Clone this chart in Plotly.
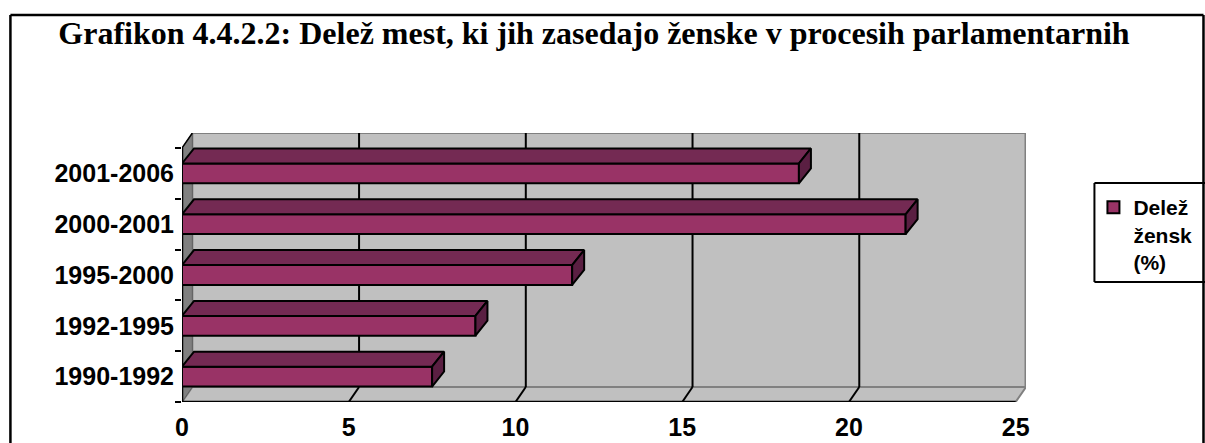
import plotly.graph_objects as go

# ---- data ----
categories = ["1990-1992", "1992-1995", "1995-2000", "2000-2001", "2001-2006"]
values = [7.5, 8.8, 11.7, 21.7, 18.5]
series_name = "Delež<br>žensk<br>(%)"
x_ticks = [0, 5, 10, 15, 20, 25]
title_text = "Grafikon 4.4.2.2: Delež mest, ki jih zasedajo ženske v procesih parlamentarnih"

# ---- styling / geometry (screen pixels, page margin removed) ----
W, H = 1205, 443
L = 182
T = 133
B = H - 402
R = W - 1025.6
XMAX = 25
DXW, DYW = 0.31, 0.295      # wall depth offset (data units)
DXB, DYB = 0.36, 0.295      # bar depth offset
BW = 0.39                   # bar front face thickness
FRONT = "#993366"
TOP = "#742a53"
SIDE = "#5a1f42"
WALL = "#C0C0C0"
SIDEWALL = "#808080"
TICKFONT = dict(family="Liberation Sans", size=25, color="black", weight="bold")

n = len(categories)
ypos = list(range(n))
ylo, yhi = -0.5, n - 0.5

fig = go.Figure()

# front faces of the bars
fig.add_trace(go.Bar(
    x=values, y=ypos, orientation="h", width=BW, base=0,
    marker=dict(color=FRONT, line=dict(color="black", width=2)),
    name=series_name, showlegend=True, hoverinfo="skip",
))

# top faces and side faces
for yi, v in zip(ypos, values):
    h = BW / 2
    fig.add_trace(go.Scatter(
        x=[0, v, v + DXB, DXB, 0],
        y=[yi + h, yi + h, yi + h + DYB, yi + h + DYB, yi + h],
        fill="toself", fillcolor=TOP, mode="lines",
        line=dict(color="black", width=2), showlegend=False, hoverinfo="skip"))
    fig.add_trace(go.Scatter(
        x=[v, v + DXB, v + DXB, v, v],
        y=[yi - h, yi - h + DYB, yi + h + DYB, yi + h, yi - h],
        fill="toself", fillcolor=SIDE, mode="lines",
        line=dict(color="black", width=2), showlegend=False, hoverinfo="skip"))

shapes = []
# back wall
shapes.append(dict(type="rect", xref="x", yref="y", x0=DXW, x1=XMAX + DXW,
                   y0=ylo + DYW, y1=yhi + DYW, fillcolor=WALL,
                   line=dict(color="#808080", width=2), layer="below"))
shapes.append(dict(type="line", xref="x", yref="y", x0=XMAX + DXW, x1=XMAX + DXW,
                   y0=ylo + DYW, y1=yhi + DYW, line=dict(color="#808080", width=3), layer="below"))
# floor
shapes.append(dict(type="path", xref="x", yref="y",
                   path=f"M0,{ylo} L{XMAX},{ylo} L{XMAX + DXW},{ylo + DYW} L{DXW},{ylo + DYW} Z",
                   fillcolor=WALL, line=dict(color="#808080", width=2), layer="below"))
# left wall
shapes.append(dict(type="path", xref="x", yref="y",
                   path=f"M0,{ylo} L{DXW},{ylo + DYW} L{DXW},{yhi + DYW} L0,{yhi} Z",
                   fillcolor=SIDEWALL, line=dict(color="#606060", width=1), layer="below"))
# gridlines on back wall and floor
for k in x_ticks[1:-1]:
    shapes.append(dict(type="line", xref="x", yref="y", x0=k + DXW, x1=k + DXW,
                       y0=ylo + DYW, y1=yhi + DYW, line=dict(color="black", width=2), layer="below"))
    shapes.append(dict(type="line", xref="x", yref="y", x0=k, x1=k + DXW,
                       y0=ylo, y1=ylo + DYW, line=dict(color="black", width=2), layer="below"))
# front axes
shapes.append(dict(type="line", xref="x", yref="y", x0=0, x1=XMAX, y0=ylo, y1=ylo,
                   line=dict(color="black", width=2.5), layer="below"))
shapes.append(dict(type="line", xref="x", yref="y", x0=0, x1=0, y0=ylo, y1=yhi,
                   line=dict(color="black", width=2.5), layer="below"))
shapes.append(dict(type="line", xref="x", yref="y", x0=0, x1=DXW, y0=yhi, y1=yhi + DYW,
                   line=dict(color="black", width=1.5), layer="below"))

# pixel (screen) -> paper helpers
pw = W - L - R
ph = H - T - B
def px2paper_x(px):
    return (px - L) / pw
def py2paper_y(py):
    return (H - B - py) / ph

# outer chart border as separate edges
bx0, bx1, by0, by1 = px2paper_x(10.5), px2paper_x(1203), py2paper_y(443), py2paper_y(15)
for (xa, ya, xb, yb) in [(bx0, by1, bx1, by1), (bx0, by0, bx0, by1), (bx1, by0, bx1, by1)]:
    shapes.append(dict(type="line", xref="paper", yref="paper", x0=xa, y0=ya, x1=xb, y1=yb,
                       line=dict(color="black", width=2.5), layer="above"))
# legend frame
lx0, lx1, ly0, ly1 = px2paper_x(1094), px2paper_x(1210), py2paper_y(282), py2paper_y(183)
for (xa, ya, xb, yb) in [(lx0, ly1, lx1, ly1), (lx0, ly0, lx1, ly0), (lx0, ly0, lx0, ly1)]:
    shapes.append(dict(type="line", xref="paper", yref="paper", x0=xa, y0=ya, x1=xb, y1=yb,
                       line=dict(color="black", width=2), layer="above"))

fig.update_layout(
    width=W, height=H,
    margin=dict(l=L, r=R, t=T, b=B, autoexpand=False),
    paper_bgcolor="white", plot_bgcolor="white",
    shapes=shapes,
    title=dict(text=title_text, xref="container", yref="container",
               x=594 / W, xanchor="center", y=1 - 33 / H, yanchor="middle",
               font=dict(family="Liberation Serif", size=32, color="black", weight="bold")),
    legend=dict(x=px2paper_x(1101), xanchor="left", y=py2paper_y(187), yanchor="top",
                borderwidth=0, bgcolor="rgba(0,0,0,0)", valign="top",
                indentation=-8,
                font=dict(family="Liberation Sans", size=21, color="black", weight="bold")),
    xaxis=dict(range=[0, XMAX + DXW], tickvals=x_ticks, ticktext=[str(t) for t in x_ticks],
               showgrid=False, zeroline=False, showline=False, ticks="",
               ticklabelstandoff=8, tickfont=TICKFONT, fixedrange=True),
    yaxis=dict(range=[ylo, yhi + DYW], tickvals=ypos, ticktext=categories,
               showgrid=False, zeroline=False, showline=False, ticks="",
               minor=dict(tickvals=[i - 0.5 for i in range(n + 1)], ticks="outside",
                          ticklen=6, tickwidth=2, tickcolor="black", showgrid=False),
               ticklabelstandoff=7, tickfont=TICKFONT, fixedrange=True),
    showlegend=True,
)

fig.write_html(
    "out.html",
    config={"displayModeBar": False},
    post_script="document.body.style.margin='0';document.body.style.overflow='hidden';",
)
